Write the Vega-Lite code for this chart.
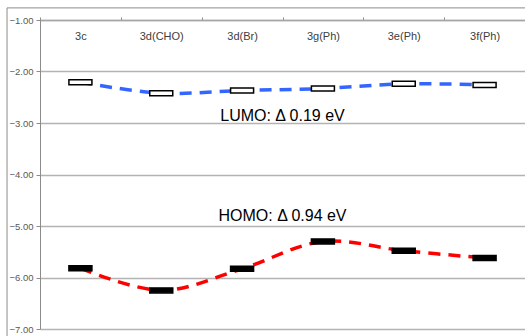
{
  "$schema": "https://vega.github.io/schema/vega-lite/v6.json",
  "autosize": {"type": "none"},
  "padding": {"left": 40, "top": 20, "right": 0, "bottom": 7},
  "width": 485,
  "height": 309,
  "background": "white",
  "config": {
    "view": {"stroke": null},
    "font": "Liberation Sans"
  },
  "datasets": {
    "levels": [
      {"cat": "3c", "orbital": "LUMO", "energy": -2.21},
      {"cat": "3d(CHO)", "orbital": "LUMO", "energy": -2.42},
      {"cat": "3d(Br)", "orbital": "LUMO", "energy": -2.37},
      {"cat": "3g(Ph)", "orbital": "LUMO", "energy": -2.33},
      {"cat": "3e(Ph)", "orbital": "LUMO", "energy": -2.24},
      {"cat": "3f(Ph)", "orbital": "LUMO", "energy": -2.26},
      {"cat": "3c", "orbital": "HOMO", "energy": -5.82},
      {"cat": "3d(CHO)", "orbital": "HOMO", "energy": -6.25},
      {"cat": "3d(Br)", "orbital": "HOMO", "energy": -5.83},
      {"cat": "3g(Ph)", "orbital": "HOMO", "energy": -5.30},
      {"cat": "3e(Ph)", "orbital": "HOMO", "energy": -5.48},
      {"cat": "3f(Ph)", "orbital": "HOMO", "energy": -5.62}
    ],
    "notes": [
      {"cat": "3g(Ph)", "label": "LUMO: Δ 0.19 eV", "energy": -2.97},
      {"cat": "3g(Ph)", "label": "HOMO: Δ 0.94 eV", "energy": -4.91}
    ]
  },
  "resolve": {"scale": {"x": "independent"}, "axis": {"x": "independent"}},
  "layer": [
    {
      "data": {"name": "levels"},
      "mark": {"type": "line", "interpolate": "catmull-rom", "strokeWidth": 3.5, "strokeDash": [12, 8]},
      "encoding": {
        "x": {
          "field": "cat", "type": "nominal",
          "scale": {"type": "band", "domain": ["3c", "3d(CHO)", "3d(Br)", "3g(Ph)", "3e(Ph)", "3f(Ph)"], "paddingInner": 0, "paddingOuter": 0},
          "axis": {
            "orient": "top", "title": null, "tickBand": "extent",
            "domainColor": "#a6a6a6", "domainWidth": 1.5,
            "tickColor": "#8c8c8c", "tickSize": 3,
            "labelPadding": -19.5, "labelBaseline": "middle", "labelAngle": 0,
            "labelFontSize": 11, "labelColor": "#404040", "labelFont": "Liberation Sans"
          }
        },
        "y": {
          "field": "energy", "type": "quantitative",
          "scale": {"domain": [-7, -1], "nice": false, "zero": false},
          "axis": {
            "title": null, "values": [-1, -2, -3, -4, -5, -6, -7], "format": ".2f",
            "domainColor": "#8c8c8c", "tickColor": "#8c8c8c", "tickSize": 4,
            "labelPadding": 3, "labelFontSize": 9.5, "labelColor": "#595959", "labelFont": "Liberation Sans",
            "grid": true, "gridColor": "#b3b3b3", "gridWidth": 1.5
          }
        },
        "color": {
          "field": "orbital", "type": "nominal",
          "scale": {"domain": ["LUMO", "HOMO"], "range": ["#3366ff", "#ff0000"]},
          "legend": null
        }
      }
    },
    {
      "data": {"name": "levels"},
      "mark": {"type": "tick", "size": 23, "thickness": 5, "stroke": "black", "strokeWidth": 1.5, "opacity": 1},
      "encoding": {
        "x": {
          "field": "cat", "type": "nominal",
          "scale": {"type": "band", "domain": ["3c", "3d(CHO)", "3d(Br)", "3g(Ph)", "3e(Ph)", "3f(Ph)"], "paddingInner": 0, "paddingOuter": 0},
          "axis": null
        },
        "y": {"field": "energy", "type": "quantitative", "scale": {"domain": [-7, -1], "nice": false, "zero": false}},
        "fill": {
          "field": "orbital", "type": "nominal",
          "scale": {"domain": ["LUMO", "HOMO"], "range": ["white", "black"]},
          "legend": null
        }
      }
    },
    {
      "data": {"name": "notes"},
      "mark": {"type": "text", "align": "center", "baseline": "alphabetic", "fontSize": 16, "color": "black", "font": "Liberation Sans"},
      "encoding": {
        "x": {
          "field": "cat", "type": "nominal", "bandPosition": 0,
          "scale": {"type": "band", "domain": ["3c", "3d(CHO)", "3d(Br)", "3g(Ph)", "3e(Ph)", "3f(Ph)"], "paddingInner": 0, "paddingOuter": 0},
          "axis": null
        },
        "y": {"field": "energy", "type": "quantitative", "scale": {"domain": [-7, -1], "nice": false, "zero": false}},
        "text": {"field": "label"}
      }
    },
    {
      "data": {"values": [{}]},
      "mark": {"type": "rect", "fillOpacity": 0, "stroke": "#8c8c8c", "strokeWidth": 1},
      "encoding": {
        "x": {"datum": -0.408, "type": "quantitative", "scale": {"domain": [0, 6], "nice": false, "zero": false}, "axis": null},
        "x2": {"datum": 7},
        "y": {"datum": -0.765, "type": "quantitative", "scale": {"domain": [-7, -1], "nice": false, "zero": false}},
        "y2": {"datum": -7.6}
      }
    }
  ]
}
